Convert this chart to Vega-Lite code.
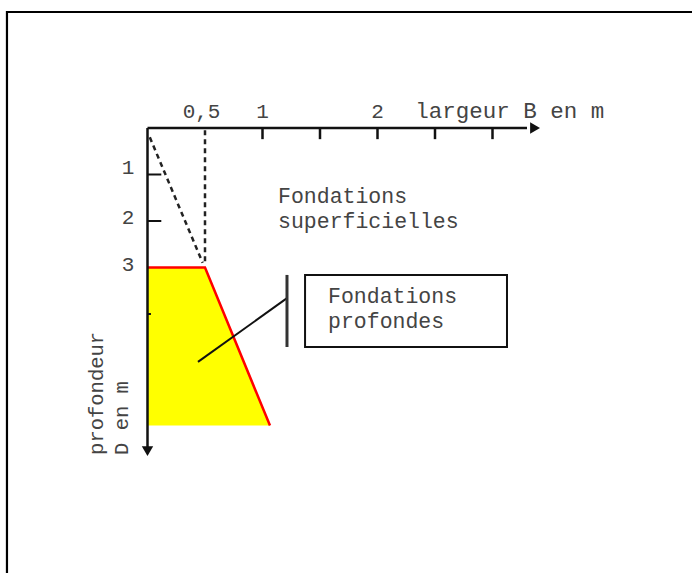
{
  "$schema": "https://vega.github.io/schema/vega-lite/v6.json",
  "width": 692,
  "height": 573,
  "autosize": "none",
  "padding": 0,
  "background": "white",
  "config": {"view": {"stroke": null}},
  "datasets": {
    "frame": [{"x": -1.222, "x2": 6.5, "y": -2.495, "y2": 11}],
    "zone": [{"x": 0.5, "x2": 0, "y": 3}, {"x": 1.065, "x2": 0, "y": 6.4}],
    "edge": [{"x": 0, "y": 3, "k": 1}, {"x": 0.5, "y": 3, "k": 2}, {"x": 1.065, "y": 6.4, "k": 3}],
    "dashed": [{"x": 0.02, "y": 0.2, "x2": 0.48, "y2": 2.9}, {"x": 0.5, "y": 0.05, "x2": 0.5, "y2": 2.9}],
    "axes": [{"x": 0, "y": 0, "x2": 3.3, "y2": 0}, {"x": 0, "y": 0, "x2": 0, "y2": 6.9}],
    "arrowRight": [{"x": 3.37, "y": 0}],
    "arrowDown": [{"x": 0, "y": 6.95}],
    "xticks": [{"x": 1, "x2": 1, "y": 0, "y2": 0.24}, {"x": 1.5, "x2": 1.5, "y": 0, "y2": 0.24}, {"x": 2, "x2": 2, "y": 0, "y2": 0.24}, {"x": 2.5, "x2": 2.5, "y": 0, "y2": 0.24}, {"x": 3, "x2": 3, "y": 0, "y2": 0.24}],
    "yticks": [{"x": 0, "x2": 0.12, "y": 1, "y2": 1}, {"x": 0, "x2": 0.12, "y": 2, "y2": 2}, {"x": 0, "x2": 0.03, "y": 4, "y2": 4}],
    "leader": [{"x": 0.439, "y": 5.03, "x2": 1.213, "y2": 3.66}],
    "bar": [{"x": 1.213, "y": 3.16, "x2": 1.213, "y2": 4.71}],
    "box": [{"x": 1.37, "x2": 3.126, "y": 3.16, "y2": 4.71}],
    "xlabels": [{"x": 0.47, "y": -0.215, "label": "0,5"}, {"x": 1.0, "y": -0.215, "label": "1"}, {"x": 2.0, "y": -0.215, "label": "2"}],
    "ylabels": [{"x": -0.17, "y": 0.86, "label": "1"}, {"x": -0.17, "y": 1.94, "label": "2"}, {"x": -0.17, "y": 2.95, "label": "3"}],
    "axisTitle": [{"x": 2.328, "y": -0.215, "label": "largeur B en m"}],
    "superf": [{"x": 1.135, "y": 1.613, "label": ["Fondations", "superficielles"]}],
    "prof": [{"x": 1.57, "y": 3.774, "label": ["Fondations", "profondes"]}],
    "vtexts": [{"x": -0.439, "y": 7.03, "label": "profondeur"}, {"x": -0.22, "y": 7.03, "label": "D en m"}]
  },
  "encoding": {
    "x": {"field": "x", "type": "quantitative", "scale": {"domain": [-1.2826, 4.7348], "nice": false, "zero": false}, "axis": null},
    "y": {"field": "y", "type": "quantitative", "scale": {"domain": [-2.7527, 9.570], "nice": false, "zero": false, "reverse": true}, "axis": null}
  },
  "layer": [
    {"data": {"name": "frame"}, "mark": {"type": "rect", "fill": null, "stroke": "black", "strokeWidth": 2.2, "clip": false},
     "encoding": {"x2": {"field": "x2"}, "y2": {"field": "y2"}}},
    {"data": {"name": "zone"}, "mark": {"type": "area", "orient": "horizontal", "color": "#FFFF00", "opacity": 1},
     "encoding": {"x2": {"field": "x2"}}},
    {"data": {"name": "edge"}, "mark": {"type": "line", "color": "#FF0000", "strokeWidth": 2.5},
     "encoding": {"order": {"field": "k", "type": "quantitative"}}},
    {"data": {"name": "dashed"}, "mark": {"type": "rule", "color": "#222", "strokeWidth": 2.5, "strokeDash": [5, 4]},
     "encoding": {"x2": {"field": "x2"}, "y2": {"field": "y2"}}},
    {"data": {"name": "axes"}, "mark": {"type": "rule", "color": "#111", "strokeWidth": 2.5},
     "encoding": {"x2": {"field": "x2"}, "y2": {"field": "y2"}}},
    {"data": {"name": "xticks"}, "mark": {"type": "rule", "color": "#111", "strokeWidth": 2.5},
     "encoding": {"x2": {"field": "x2"}, "y2": {"field": "y2"}}},
    {"data": {"name": "yticks"}, "mark": {"type": "rule", "color": "#111", "strokeWidth": 2},
     "encoding": {"x2": {"field": "x2"}, "y2": {"field": "y2"}}},
    {"data": {"name": "arrowRight"}, "mark": {"type": "point", "shape": "triangle-right", "filled": true, "color": "#111", "size": 130, "opacity": 1}},
    {"data": {"name": "arrowDown"}, "mark": {"type": "point", "shape": "triangle-down", "filled": true, "color": "#111", "size": 130, "opacity": 1}},
    {"data": {"name": "leader"}, "mark": {"type": "rule", "color": "#111", "strokeWidth": 2},
     "encoding": {"x2": {"field": "x2"}, "y2": {"field": "y2"}}},
    {"data": {"name": "bar"}, "mark": {"type": "rule", "color": "#333", "strokeWidth": 3},
     "encoding": {"x2": {"field": "x2"}, "y2": {"field": "y2"}}},
    {"data": {"name": "box"}, "mark": {"type": "rect", "fill": null, "stroke": "#111", "strokeWidth": 2},
     "encoding": {"x2": {"field": "x2"}, "y2": {"field": "y2"}}},
    {"data": {"name": "xlabels"}, "mark": {"type": "text", "font": "Liberation Mono", "fontSize": 21, "color": "#444", "align": "center", "baseline": "alphabetic"},
     "encoding": {"text": {"field": "label"}}},
    {"data": {"name": "ylabels"}, "mark": {"type": "text", "font": "Liberation Mono", "fontSize": 21, "color": "#444", "align": "center", "baseline": "middle"},
     "encoding": {"text": {"field": "label"}}},
    {"data": {"name": "axisTitle"}, "mark": {"type": "text", "font": "Liberation Mono", "fontSize": 22.5, "color": "#444", "align": "left", "baseline": "alphabetic"},
     "encoding": {"text": {"field": "label"}}},
    {"data": {"name": "superf"}, "mark": {"type": "text", "font": "Liberation Mono", "fontSize": 21.5, "lineHeight": 24.5, "color": "#444", "align": "left", "baseline": "alphabetic"},
     "encoding": {"text": {"field": "label"}}},
    {"data": {"name": "prof"}, "mark": {"type": "text", "font": "Liberation Mono", "fontSize": 21.5, "lineHeight": 24.5, "color": "#444", "align": "left", "baseline": "alphabetic"},
     "encoding": {"text": {"field": "label"}}},
    {"data": {"name": "vtexts"}, "mark": {"type": "text", "font": "Liberation Mono", "fontSize": 20.5, "color": "#444", "align": "left", "baseline": "middle", "angle": 270},
     "encoding": {"text": {"field": "label"}}}
  ]
}
